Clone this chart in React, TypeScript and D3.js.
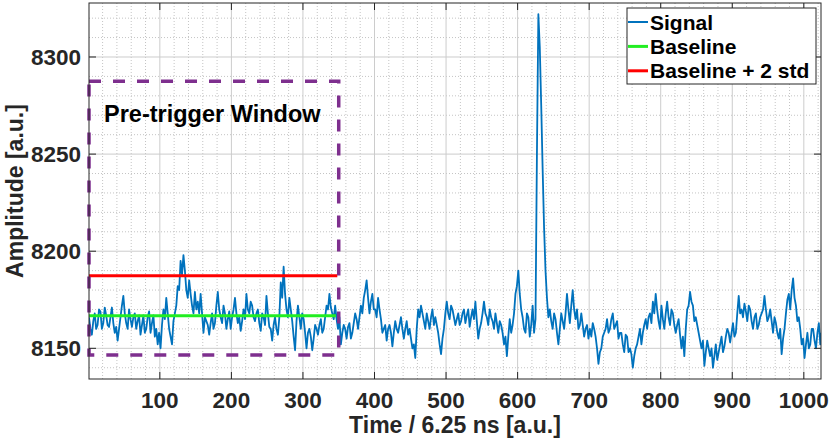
import { useEffect, useRef } from "react";
import * as d3 from "d3";

const WIDTH = 830;
const HEIGHT = 440;
const PLOT = { left: 89, right: 821, top: 3, bottom: 379 };

const X_DOMAIN: [number, number] = [1, 1024];
const Y_DOMAIN: [number, number] = [8134.2, 8327.8];
const X_TICKS = [100, 200, 300, 400, 500, 600, 700, 800, 900, 1000];
const Y_TICKS = [8150, 8200, 8250, 8300];

// one reading every 2 time bins (t = 1, 3, 5, ...), last one at t = 1024
const SAMPLE_STEP = 2;
const SIGNAL = [
  // 1 - 99
  8166, 8160, 8157, 8164, 8168, 8160, 8162, 8170, 8169, 8160, 8163, 8171, 8167, 8162, 8161, 8166, 8171, 8163, 8158, 8161, 8154, 8160, 8166, 8172, 8177,
  8168, 8163, 8160, 8170, 8165, 8161, 8166, 8168, 8160, 8164, 8167, 8157, 8162, 8167, 8158, 8160, 8166, 8169, 8158, 8163, 8167, 8156, 8160, 8152, 8158,
  // 101 - 199
  8150, 8162, 8170, 8165, 8176, 8168, 8160, 8156, 8152, 8164, 8168, 8172, 8182, 8180, 8195, 8188, 8198, 8190, 8180, 8176, 8185, 8178, 8172, 8168, 8179,
  8170, 8174, 8168, 8178, 8168, 8158, 8166, 8164, 8162, 8157, 8163, 8168, 8160, 8163, 8172, 8179, 8170, 8166, 8163, 8172, 8168, 8160, 8165, 8169, 8160,
  // 201 - 299
  8166, 8170, 8176, 8168, 8163, 8166, 8159, 8164, 8170, 8165, 8178, 8170, 8168, 8174, 8172, 8166, 8164, 8168, 8170, 8163, 8159, 8168, 8166, 8162, 8177,
  8168, 8161, 8160, 8154, 8162, 8166, 8160, 8157, 8166, 8184, 8176, 8192, 8178, 8170, 8166, 8176, 8170, 8164, 8156, 8149, 8164, 8172, 8166, 8160, 8168,
  // 301 - 399
  8165, 8158, 8150, 8158, 8160, 8156, 8149, 8155, 8162, 8160, 8157, 8162, 8165, 8158, 8160, 8166, 8172, 8170, 8178, 8171, 8168, 8165, 8172, 8165, 8160,
  8166, 8152, 8158, 8162, 8160, 8155, 8161, 8163, 8155, 8158, 8163, 8168, 8165, 8160, 8166, 8172, 8168, 8176, 8180, 8185, 8176, 8168, 8174, 8178, 8170,
  // 401 - 499
  8170, 8166, 8176, 8170, 8165, 8158, 8160, 8162, 8154, 8160, 8162, 8158, 8151, 8158, 8164, 8160, 8158, 8162, 8166, 8160, 8155, 8160, 8164, 8157, 8160,
  8155, 8150, 8152, 8145, 8160, 8170, 8166, 8172, 8168, 8164, 8160, 8168, 8164, 8160, 8166, 8170, 8162, 8166, 8162, 8158, 8152, 8147, 8155, 8160, 8168,
  // 501 - 599
  8174, 8168, 8165, 8172, 8170, 8166, 8162, 8165, 8168, 8162, 8164, 8168, 8170, 8163, 8167, 8170, 8161, 8166, 8170, 8165, 8174, 8164, 8155, 8160, 8163,
  8168, 8174, 8168, 8166, 8162, 8170, 8166, 8164, 8160, 8168, 8163, 8158, 8164, 8162, 8158, 8152, 8156, 8146, 8156, 8165, 8158, 8162, 8168, 8178, 8182,
  // 601 - 699
  8190, 8178, 8170, 8166, 8160, 8158, 8168, 8166, 8156, 8162, 8172, 8158, 8165, 8250, 8322, 8305, 8275, 8242, 8212, 8190, 8176, 8166, 8170, 8164, 8160,
  8168, 8165, 8158, 8152, 8160, 8168, 8164, 8160, 8168, 8178, 8170, 8163, 8172, 8180, 8170, 8165, 8170, 8160, 8162, 8168, 8162, 8156, 8160, 8162, 8155,
  // 701 - 799
  8160, 8156, 8163, 8160, 8156, 8150, 8142, 8148, 8150, 8156, 8158, 8160, 8165, 8158, 8160, 8165, 8168, 8160, 8162, 8164, 8155, 8158, 8158, 8152, 8148,
  8157, 8156, 8148, 8150, 8147, 8140, 8146, 8150, 8152, 8156, 8160, 8152, 8158, 8162, 8165, 8160, 8166, 8168, 8163, 8174, 8168, 8178, 8170, 8164, 8160,
  // 801 - 899
  8172, 8165, 8160, 8168, 8174, 8166, 8162, 8170, 8168, 8162, 8158, 8162, 8165, 8157, 8150, 8156, 8146, 8160, 8170, 8172, 8179, 8174, 8172, 8164, 8166,
  8162, 8158, 8154, 8150, 8154, 8141, 8148, 8154, 8150, 8146, 8150, 8140, 8146, 8152, 8144, 8148, 8152, 8156, 8148, 8151, 8156, 8160, 8158, 8153, 8158,
  // 901 - 999
  8163, 8156, 8158, 8168, 8177, 8168, 8170, 8166, 8173, 8169, 8164, 8172, 8170, 8164, 8160, 8166, 8168, 8160, 8162, 8166, 8168, 8170, 8177, 8170, 8164,
  8166, 8170, 8164, 8158, 8166, 8163, 8158, 8155, 8160, 8147, 8155, 8160, 8168, 8175, 8178, 8170, 8180, 8186, 8176, 8172, 8164, 8166, 8160, 8152, 8155,
  // 1001 - 1023, 1024
  8145, 8152, 8158, 8150, 8152, 8160, 8160, 8154, 8150, 8158, 8163, 8152, 8158,
];

const BASELINE = 8166.8;
const BASELINE_2STD = 8187.3;
const WINDOW_END = 350;
const WINDOW_LOW = 8146.5;
const WINDOW_HIGH = 8287.5;

const LEGEND_LABELS = ["Signal", "Baseline", "Baseline + 2 std"];
const LEGEND_COLORS = ["#0072BD", "#22ee22", "#ff0000"];

const FONT = "'Liberation Sans', Arial, Helvetica, sans-serif";
const AXIS_COLOR = "#262626";

export default function App(): JSX.Element {
  const svgRef = useRef<SVGSVGElement | null>(null);

  useEffect(() => {
    if (!svgRef.current) return;
    const svg = d3.select(svgRef.current);
    svg.selectAll("*").remove();

    const x = d3.scaleLinear().domain(X_DOMAIN).range([PLOT.left, PLOT.right]);
    const y = d3.scaleLinear().domain(Y_DOMAIN).range([PLOT.bottom, PLOT.top]);

    svg.append("rect").attr("width", WIDTH).attr("height", HEIGHT).attr("fill", "#fff");

    svg
      .append("defs")
      .append("clipPath")
      .attr("id", "plot-clip")
      .append("rect")
      .attr("x", PLOT.left)
      .attr("y", PLOT.top)
      .attr("width", PLOT.right - PLOT.left)
      .attr("height", PLOT.bottom - PLOT.top);

    // grid: dotted minor first, solid major on top of it
    const minorX = d3.range(20, 1024, 20).filter((v) => v % 100 !== 0);
    const minorY = d3.range(8140, 8328, 10).filter((v) => v % 50 !== 0);
    const grid = svg.append("g");
    grid
      .selectAll("line.mx")
      .data(minorX)
      .join("line")
      .attr("x1", (d) => x(d))
      .attr("x2", (d) => x(d))
      .attr("y1", PLOT.top)
      .attr("y2", PLOT.bottom)
      .attr("stroke", "#c4c4c4")
      .attr("stroke-dasharray", "1,2");
    grid
      .selectAll("line.my")
      .data(minorY)
      .join("line")
      .attr("x1", PLOT.left)
      .attr("x2", PLOT.right)
      .attr("y1", (d) => y(d))
      .attr("y2", (d) => y(d))
      .attr("stroke", "#c4c4c4")
      .attr("stroke-dasharray", "1,2");
    grid
      .selectAll("line.gx")
      .data(X_TICKS)
      .join("line")
      .attr("x1", (d) => x(d))
      .attr("x2", (d) => x(d))
      .attr("y1", PLOT.top)
      .attr("y2", PLOT.bottom)
      .attr("stroke", "#cccccc");
    grid
      .selectAll("line.gy")
      .data(Y_TICKS)
      .join("line")
      .attr("x1", PLOT.left)
      .attr("x2", PLOT.right)
      .attr("y1", (d) => y(d))
      .attr("y2", (d) => y(d))
      .attr("stroke", "#cccccc");

    const plot = svg.append("g").attr("clip-path", "url(#plot-clip)");

    const line = d3
      .line<number>()
      .x((_, i) => x(Math.min(X_DOMAIN[0] + i * SAMPLE_STEP, X_DOMAIN[1])))
      .y((d) => y(d));
    plot
      .append("path")
      .datum(SIGNAL)
      .attr("fill", "none")
      .attr("stroke", LEGEND_COLORS[0])
      .attr("stroke-width", 1.8)
      .attr("stroke-linejoin", "round")
      .attr("d", line);

    plot
      .append("line")
      .attr("x1", x(X_DOMAIN[0]))
      .attr("x2", x(WINDOW_END - 4))
      .attr("y1", y(BASELINE))
      .attr("y2", y(BASELINE))
      .attr("stroke", LEGEND_COLORS[1])
      .attr("stroke-width", 3);
    plot
      .append("line")
      .attr("x1", x(X_DOMAIN[0]))
      .attr("x2", x(WINDOW_END - 2))
      .attr("y1", y(BASELINE_2STD))
      .attr("y2", y(BASELINE_2STD))
      .attr("stroke", LEGEND_COLORS[2])
      .attr("stroke-width", 3);

    // pre-trigger window
    svg
      .append("rect")
      .attr("x", x(X_DOMAIN[0]))
      .attr("y", y(WINDOW_HIGH))
      .attr("width", x(WINDOW_END) - x(X_DOMAIN[0]))
      .attr("height", y(WINDOW_LOW) - y(WINDOW_HIGH))
      .attr("fill", "none")
      .attr("stroke", "#7E2F8E")
      .attr("stroke-width", 3.5)
      .attr("stroke-dasharray", "12,12");

    svg
      .append("text")
      .attr("x", 104)
      .attr("y", 122)
      .attr("font-family", FONT)
      .attr("font-weight", 700)
      .attr("font-size", 23.5)
      .attr("fill", "#000")
      .text("Pre-trigger Window");

    // axes box with inward ticks on all sides
    const axes = svg.append("g").attr("stroke", AXIS_COLOR).attr("stroke-width", 1);
    axes
      .append("rect")
      .attr("x", PLOT.left)
      .attr("y", PLOT.top)
      .attr("width", PLOT.right - PLOT.left)
      .attr("height", PLOT.bottom - PLOT.top)
      .attr("fill", "none");
    const TL = 7;
    X_TICKS.forEach((t) => {
      axes.append("line").attr("x1", x(t)).attr("x2", x(t)).attr("y1", PLOT.bottom).attr("y2", PLOT.bottom - TL);
      axes.append("line").attr("x1", x(t)).attr("x2", x(t)).attr("y1", PLOT.top).attr("y2", PLOT.top + TL);
    });
    Y_TICKS.forEach((t) => {
      axes.append("line").attr("x1", PLOT.left).attr("x2", PLOT.left + TL).attr("y1", y(t)).attr("y2", y(t));
      axes.append("line").attr("x1", PLOT.right).attr("x2", PLOT.right - TL).attr("y1", y(t)).attr("y2", y(t));
    });

    const labels = svg
      .append("g")
      .attr("font-family", FONT)
      .attr("font-weight", 700)
      .attr("fill", AXIS_COLOR);
    labels
      .selectAll("text.xt")
      .data(X_TICKS)
      .join("text")
      .attr("x", (d) => x(d))
      .attr("y", 408)
      .attr("text-anchor", "middle")
      .attr("font-size", 22.5)
      .text((d) => d);
    labels
      .selectAll("text.yt")
      .data(Y_TICKS)
      .join("text")
      .attr("x", 81)
      .attr("y", (d) => y(d) + 8)
      .attr("text-anchor", "end")
      .attr("font-size", 22.5)
      .text((d) => d);
    labels
      .append("text")
      .attr("x", (PLOT.left + PLOT.right) / 2)
      .attr("y", 433)
      .attr("text-anchor", "middle")
      .attr("font-size", 23)
      .text("Time / 6.25 ns [a.u.]");
    labels
      .append("text")
      .attr("transform", `translate(23, ${(PLOT.top + PLOT.bottom) / 2}) rotate(-90)`)
      .attr("text-anchor", "middle")
      .attr("font-size", 23)
      .text("Amplitude [a.u.]");

    // legend
    const lg = svg.append("g");
    lg.append("rect")
      .attr("x", 627)
      .attr("y", 8)
      .attr("width", 189)
      .attr("height", 76)
      .attr("fill", "#fff")
      .attr("stroke", AXIS_COLOR)
      .attr("stroke-width", 1);
    LEGEND_LABELS.forEach((label, i) => {
      const cy = 22 + i * 24.4;
      lg.append("line")
        .attr("x1", 628)
        .attr("x2", 648)
        .attr("y1", cy)
        .attr("y2", cy)
        .attr("stroke", LEGEND_COLORS[i])
        .attr("stroke-width", i === 0 ? 2 : 3);
      lg.append("text")
        .attr("x", 650)
        .attr("y", cy + 7.5)
        .attr("font-family", FONT)
        .attr("font-weight", 700)
        .attr("font-size", 21)
        .attr("fill", "#000")
        .text(label);
    });
  }, []);

  return (
    <div style={{ position: "fixed", left: 0, top: 0 }}>
      <svg ref={svgRef} width={WIDTH} height={HEIGHT} style={{ display: "block" }} />
    </div>
  );
}
